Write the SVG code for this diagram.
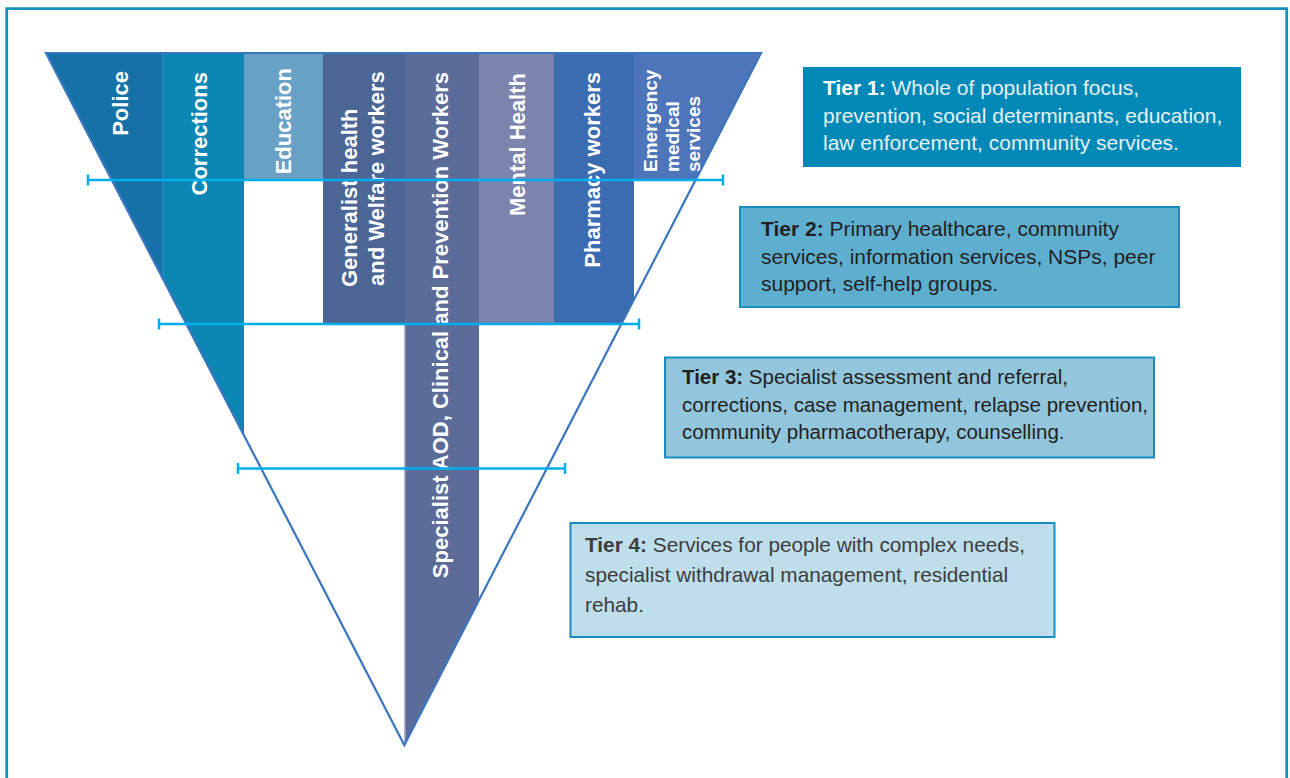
<svg xmlns="http://www.w3.org/2000/svg" width="1290" height="778" viewBox="0 0 1290 778">
<style>
.col{font-family:"Liberation Sans",Arial,sans-serif;font-weight:bold;font-size:22px;fill:#ffffff}
.ems{font-size:19px}
.tier{font-family:"Liberation Sans",Arial,sans-serif;font-size:20.5px}
.b{font-weight:bold}
.tl{stroke:#00aeef;stroke-width:2.5;fill:none}
.box{stroke:#1a8cbf;stroke-width:2}
</style>
<rect width="1290" height="778" fill="#ffffff"/>
<path d="M6.7,778 V8.7 H1286.7 V778" fill="none" stroke="#1190bf" stroke-width="2.8"/>

<g id="pyramid">
  <g id="police"><polygon points="46,53 163,53 163,279.2" fill="#1672a6"/></g>
  <g id="corrections"><polygon points="163,53 244,53 244,435.7 163,279.2" fill="#0e86b4"/></g>
  <g id="education"><rect x="244" y="53" width="79" height="127" fill="#68a0c6"/></g>
  <g id="generalist"><rect x="323" y="53" width="82" height="271" fill="#4b6595"/></g>
  <g id="specialist"><polygon points="404.5,53 479,53 479,599.6 404.5,745" fill="#5c6c99"/></g>
  <g id="mental-health"><rect x="479" y="53" width="75" height="271" fill="#7a84ad"/></g>
  <g id="pharmacy"><polygon points="554,53 634,53 634,299.2 621.2,324 554,324" fill="#3b6bb1"/></g>
  <g id="emergency"><polygon points="634,53 761,53 695.5,180 634,180" fill="#4e75b9"/></g>
  <line x1="163" y1="53" x2="163" y2="279" stroke="#3a8fc0" stroke-width="1"/>
  <line x1="405" y1="324" x2="405" y2="745" stroke="#a8b0cc" stroke-width="1.2"/>
  <polygon points="46,53 761,53 404.3,745" fill="none" stroke="#3a75c0" stroke-width="2.2" stroke-linejoin="miter"/>
</g>

<g id="labels">
  <text class="col" text-anchor="end" transform="translate(127.5,71) rotate(-90)">Police</text>
  <text class="col" text-anchor="end" transform="translate(207,72) rotate(-90)">Corrections</text>
  <text class="col" text-anchor="end" transform="translate(290.5,68) rotate(-90)">Education</text>
  <text class="col" transform="translate(357,287) rotate(-90)">Generalist health</text>
  <text class="col" transform="translate(384,286) rotate(-90)">and Welfare workers</text>
  <text class="col" text-anchor="end" transform="translate(448,72) rotate(-90)">Specialist AOD, Clinical and Prevention Workers</text>
  <text class="col" text-anchor="end" transform="translate(525,73) rotate(-90)">Mental Health</text>
  <text class="col" text-anchor="end" transform="translate(600,72) rotate(-90)">Pharmacy workers</text>
  <text class="col ems" transform="translate(657,172) rotate(-90)">Emergency</text>
  <text class="col ems" transform="translate(679,172) rotate(-90)">medical</text>
  <text class="col ems" transform="translate(700,172) rotate(-90)">services</text>
</g>

<g id="connectors">
  <path class="tl" d="M88,180 H723 M88,174.5 V185.5 M723,174.5 V185.5"/>
  <path class="tl" d="M159,324 H639 M159,318.5 V329.5 M639,318.5 V329.5"/>
  <path class="tl" d="M238,468.5 H565 M238,463 V474 M565,463 V474"/>
</g>

<g id="tier1">
  <rect x="803" y="67" width="438" height="100" fill="#0089b7"/>
  <text class="tier" fill="#e6f1f6" style="font-size:21px">
    <tspan x="823" y="95"><tspan class="b" fill="#ffffff">Tier 1:</tspan> Whole of population focus,</tspan>
    <tspan x="823" y="123">prevention, social determinants, education,</tspan>
    <tspan x="823" y="150">law enforcement, community services.</tspan>
  </text>
</g>
<g id="tier2">
  <rect class="box" x="740" y="207" width="439" height="100" fill="#5eaed0"/>
  <text class="tier" fill="#231f20" style="font-size:21px">
    <tspan x="761" y="236"><tspan class="b">Tier 2:</tspan> Primary healthcare, community</tspan>
    <tspan x="761" y="264">services, information services, NSPs, peer</tspan>
    <tspan x="761" y="291">support, self-help groups.</tspan>
  </text>
</g>
<g id="tier3">
  <rect class="box" x="665" y="357.5" width="489" height="100" fill="#92c6dd"/>
  <text class="tier" fill="#231f20">
    <tspan x="682" y="384"><tspan class="b">Tier 3:</tspan> Specialist assessment and referral,</tspan>
    <tspan x="682" y="412">corrections, case management, relapse prevention,</tspan>
    <tspan x="682" y="439">community pharmacotherapy, counselling.</tspan>
  </text>
</g>
<g id="tier4">
  <rect class="box" x="570.5" y="523" width="484" height="114" fill="#bddeea"/>
  <text class="tier" fill="#3d3d3d" style="font-size:20.8px">
    <tspan x="585" y="552"><tspan class="b">Tier 4:</tspan> Services for people with complex needs,</tspan>
    <tspan x="585" y="582">specialist withdrawal management, residential</tspan>
    <tspan x="585" y="612">rehab.</tspan>
  </text>
</g>
</svg>
